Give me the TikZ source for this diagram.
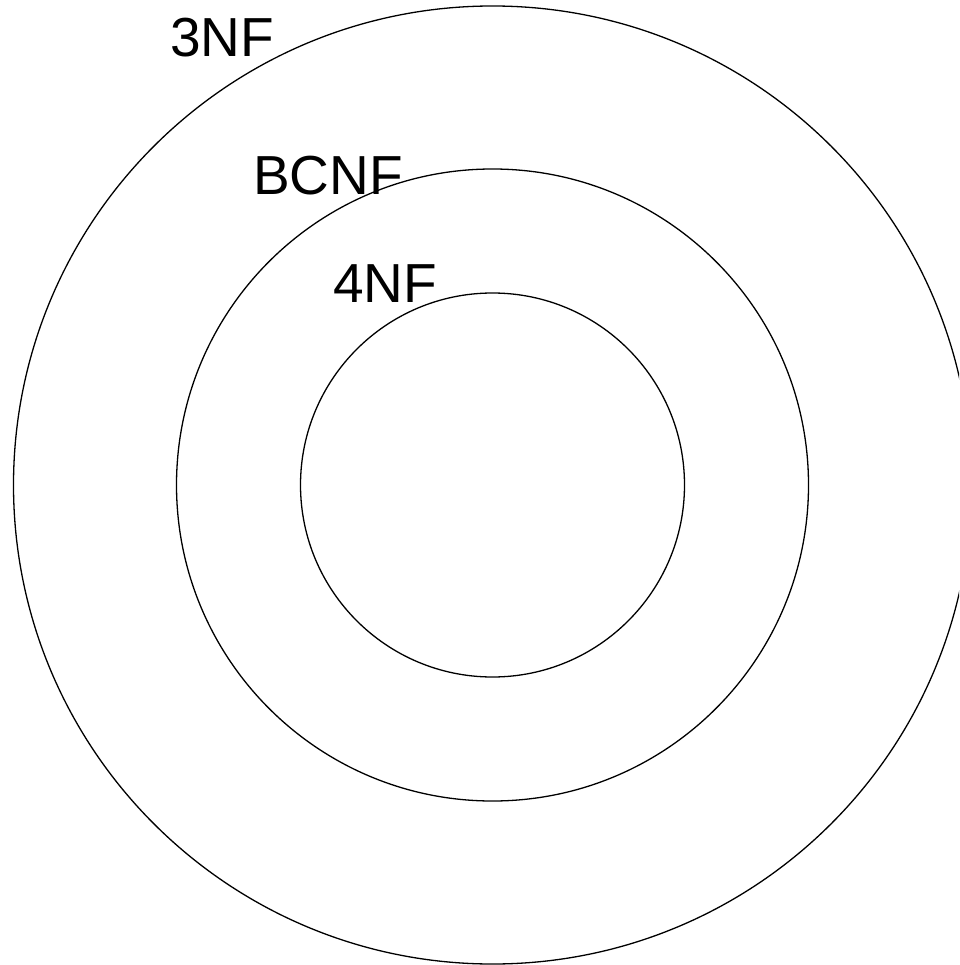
\documentclass[tikz,border=0pt]{standalone}
\usepackage{fontspec}
\setmainfont{Liberation Sans}
\usetikzlibrary{positioning}

\begin{document}
\begin{tikzpicture}[x=1pt, y=-1pt,
    ring/.style={draw, circle, line width=1.3pt, inner sep=0pt},
    nflabel/.style={anchor=base west, inner sep=0pt, font=\fontsize{55}{60}\selectfont}]
    % page frame
    \useasboundingbox (0,0) rectangle (959,965);
    \clip (0,0) rectangle (959,965);
    \coordinate (c) at (492.5,485);

    % Normal form rings
    \node[ring, minimum size=958pt] (thirdnf) at (c) {};
    \node[ring, minimum size=632pt] (bcnf) at (c) {};
    \node[ring, minimum size=384pt] (fourthnf) at (c) {};

    % Labels
    \node[nflabel] (lthird) at (170,57) {3NF};
    \node[nflabel] (lbcnf) at (253,195) {BCNF};
    \node[nflabel] (lfourth) at (333,302) {4NF};
\end{tikzpicture}
\end{document}
